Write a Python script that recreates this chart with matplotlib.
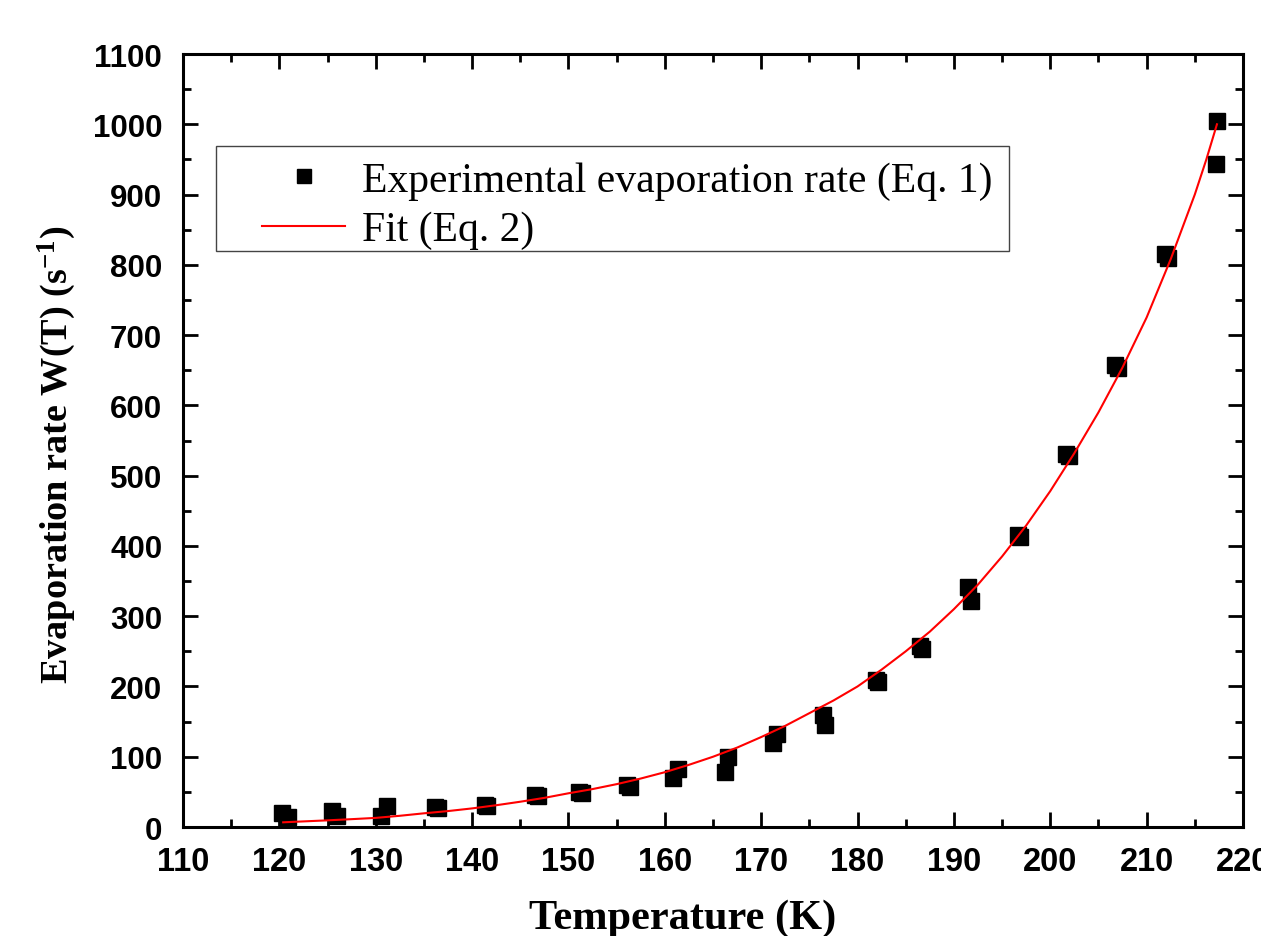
import matplotlib
matplotlib.use("Agg")
import matplotlib.pyplot as plt
from matplotlib.patches import Rectangle
from matplotlib.ticker import MultipleLocator

# experimental points (two measurements per temperature step)
T_exp = [120.3, 120.9, 125.5, 126.0, 130.6, 131.2, 136.2, 136.5, 141.3, 141.6,
         146.5, 146.8, 151.1, 151.4, 156.1, 156.4, 160.9, 161.4, 166.2, 166.6,
         171.2, 171.6, 176.4, 176.6, 181.9, 182.1, 186.5, 186.7, 191.5, 191.8,
         196.7, 196.9, 201.6, 201.9, 206.7, 207.0, 211.9, 212.2, 217.2, 217.3]
W_exp = [19.5, 14, 23, 16, 15.5, 30.5, 29, 27.5, 31, 30,
         45.5, 44, 50.5, 48, 60, 57, 70, 82, 78, 99,
         120, 132, 160, 145, 209, 207, 257, 253, 341, 322,
         416, 413, 531, 528, 657, 653, 815, 810, 944, 1004]

# fit curve
T_fit = [120.4, 122.5, 125, 127.5, 130, 132.5, 135, 137.5, 140, 142.5,
         145, 147.5, 150, 152.5, 155, 157.5, 160, 162.5, 165, 167.5,
         170, 172.5, 175, 177.5, 180, 182.5, 185, 187.5, 190, 192.5,
         195, 197.5, 200, 202.5, 205, 207.5, 210, 212.5, 215, 216.2, 217.3]
W_fit = [6.7, 8, 9.5, 11.2, 13, 16, 19.5, 22.7, 26.5, 31,
         36, 41.5, 48, 54, 61, 69, 78, 88.5, 100, 113,
         128, 144, 162, 180, 200, 224, 250, 278, 310, 345,
         385, 429, 478, 532, 590, 654, 725, 808, 900, 950, 1000]

plt.rcParams['mathtext.fontset'] = 'custom'
plt.rcParams['mathtext.bf'] = 'Liberation Serif:bold'
plt.rcParams['mathtext.rm'] = 'Liberation Serif:bold'
plt.rcParams['mathtext.default'] = 'bf'

fig = plt.figure(figsize=(12.61, 9.37), dpi=100)
ax = fig.add_axes([0.1451, 0.1163, 0.8406, 0.8250])

ax.plot(T_exp, W_exp, 's', color='black', ms=12, mec='black',
        label='Experimental evaporation rate (Eq. 1)', zorder=3)
ax.plot(T_fit, W_fit, '-', color='red', lw=1.5, label='Fit (Eq. 2)', zorder=4)

ax.set_xlim(110, 220)
ax.set_ylim(0, 1100)
ax.xaxis.set_major_locator(MultipleLocator(10))
ax.xaxis.set_minor_locator(MultipleLocator(5))
ax.yaxis.set_major_locator(MultipleLocator(100))
ax.yaxis.set_minor_locator(MultipleLocator(50))

for s in ax.spines.values():
    s.set_linewidth(2.2)
ax.tick_params(which='both', direction='in', top=True, right=True, width=2)
ax.tick_params(which='major', length=11)
ax.tick_params(which='minor', length=6)
ax.tick_params(axis='x', which='major', pad=14)
ax.tick_params(axis='y', which='major', pad=15)

for lab in ax.get_xticklabels():
    lab.set_fontfamily('Liberation Sans')
    lab.set_fontweight('bold')
    lab.set_fontsize(23.5)
for lab in ax.get_yticklabels():
    lab.set_fontfamily('Liberation Sans')
    lab.set_fontweight('bold')
    lab.set_fontsize(22.5)

ax.set_xlabel('Temperature (K)', fontfamily='Liberation Serif',
              fontweight='bold', fontsize=30.5)
ax.set_ylabel(r'Evaporation rate W(T) (s$^{-1}$)', fontfamily='Liberation Serif',
              fontweight='bold', fontsize=27.5)
ax.xaxis.set_label_coords(0.471, -0.093)
ax.yaxis.set_label_coords(-0.099, 0.4825)

# legend box drawn separately so the entries can sit further in
ax.add_patch(Rectangle((0.031, 0.745), 0.748, 0.136, transform=ax.transAxes,
                       fill=True, facecolor='white', edgecolor='#444444',
                       lw=1.0, zorder=5))
leg = ax.legend(loc='upper left', bbox_to_anchor=(0.0745, 0.8616),
                prop={'family': 'Liberation Serif', 'size': 30},
                frameon=False, borderaxespad=0, borderpad=0,
                handlelength=2.0, handletextpad=0.4, labelspacing=0.27,
                markerscale=0.8)
leg.set_zorder(6)

fig.savefig('out.png', dpi=100)
